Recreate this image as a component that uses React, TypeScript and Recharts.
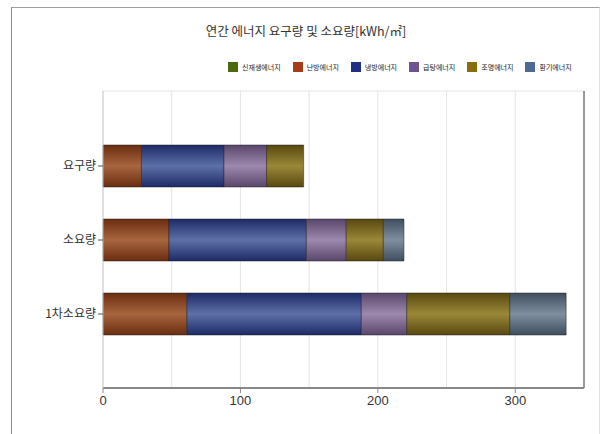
import { BarChart, Bar, XAxis, YAxis, ReferenceLine, CartesianGrid } from 'recharts'

const categories = ['요구량', '소요량', '1차소요량']
const renewable = [0, 0, 0]
const heating = [28, 48, 61]
const cooling = [60, 100, 127]
const hotWater = [31, 29, 33]
const lighting = [27, 27, 75]
const ventilation = [0, 15, 41]
const xTicks = [0, 100, 200, 300]
const gridValues = [50, 100, 150, 200, 250, 300]
const xMax = 350

const series = [
  { key: 'renewable', name: '신재생에너지', values: renewable, swatch: '#4c6a0e', dark: '#3e5a0a', light: '#6d8a2c' },
  { key: 'heating', name: '난방에너지', values: heating, swatch: '#a53c1a', dark: '#6a2d10', light: '#a8653e' },
  { key: 'cooling', name: '냉방에너지', values: cooling, swatch: '#1f2f82', dark: '#1d2a66', light: '#5e70a8' },
  { key: 'hotWater', name: '급탕에너지', values: hotWater, swatch: '#6f5290', dark: '#5a466c', light: '#9d89ad' },
  { key: 'lighting', name: '조명에너지', values: lighting, swatch: '#8a6e0c', dark: '#584810', light: '#9a8838' },
  { key: 'ventilation', name: '환기에너지', values: ventilation, swatch: '#4d6a92', dark: '#3e4e5e', light: '#7f8fa0' },
]

const data = categories.map((name, i) => {
  const row: Record<string, string | number> = { name }
  series.forEach(s => { row[s.key] = s.values[i] })
  return row
})

const font = '"Noto Sans CJK KR", "Noto Sans", sans-serif'

// vertical grid every 50, mapped through the x axis scale
const gridX = ({ xAxis, offset }: any) => {
  if (xAxis && typeof xAxis.scale === 'function') return gridValues.map(v => xAxis.scale(v))
  return gridValues.map(v => offset.left + (v / xMax) * offset.width)
}

export default function App() {
  return (
    <div style={{ position: 'absolute', left: 0, top: 0, width: 602, height: 434, background: '#fff', fontFamily: font }}>
      {/* outer frame */}
      <div style={{ position: 'absolute', left: 11, top: 7, width: 587, height: 426, borderLeft: '1px solid #8c8c8c', borderTop: '1px solid #a0a0a0', borderRight: '1px solid #e0e0e0' }} />
      <div style={{ position: 'absolute', left: 0, top: 21, width: 612, textAlign: 'center', fontSize: 12.5, color: '#333' }}>
        연간 에너지 요구량 및 소요량[kWh/㎡]
      </div>
      <div style={{ position: 'absolute', left: 228, top: 62, display: 'flex', alignItems: 'center', gap: 12 }}>
        {series.map(s => (
          <div key={s.key} style={{ display: 'flex', alignItems: 'center', gap: 4 }}>
            <span style={{ width: 10, height: 10, background: s.swatch, display: 'inline-block' }} />
            <span style={{ fontSize: 7, color: '#222', lineHeight: '10px' }}>{s.name}</span>
          </div>
        ))}
      </div>
      <BarChart
        width={602}
        height={434}
        data={data}
        layout="vertical"
        margin={{ top: 91, right: 18, bottom: 16, left: 0 }}
        style={{ position: 'absolute', left: 0, top: 0 }}
      >
        <defs>
          {series.map(s => (
            <linearGradient key={s.key} id={`g-${s.key}`} x1="0" y1="0" x2="0" y2="1">
              <stop offset="0%" stopColor={s.dark} />
              <stop offset="50%" stopColor={s.light} />
              <stop offset="100%" stopColor={s.dark} />
            </linearGradient>
          ))}
        </defs>
        <CartesianGrid
          stroke="#e4e4e4"
          horizontal={{ stroke: '#c8c8c8' }}
          verticalCoordinatesGenerator={gridX}
          horizontalCoordinatesGenerator={({ offset }: any) => [offset.top]}
        />
        <ReferenceLine x={xMax} stroke="#999" strokeWidth={2} />
        <XAxis
          type="number"
          domain={[0, xMax]}
          ticks={xTicks}
          height={30}
          tickSize={5}
          tickMargin={3}
          axisLine={{ stroke: '#888', strokeWidth: 2 }}
          tickLine={{ stroke: '#888' }}
          tick={{ fontSize: 13, fill: '#333', fontFamily: '"Liberation Sans Narrow", "Liberation Sans", sans-serif' }}
        />
        <YAxis
          type="category"
          dataKey="name"
          width={103}
          padding={{ top: 38, bottom: 37 }}
          tickSize={5}
          tickMargin={2}
          axisLine={{ stroke: '#c0c0c0' }}
          tickLine={{ stroke: '#555' }}
          tick={{ fontSize: 12, fill: '#333', fontFamily: font }}
        />
        {series.map(s => (
          <Bar
            key={s.key}
            dataKey={s.key}
            name={s.name}
            stackId="a"
            barSize={42}
            fill={`url(#g-${s.key})`}
            stroke="#1a1a1a"
            strokeOpacity={0.6}
            strokeWidth={0.8}
            isAnimationActive={false}
          />
        ))}
      </BarChart>
    </div>
  )
}
